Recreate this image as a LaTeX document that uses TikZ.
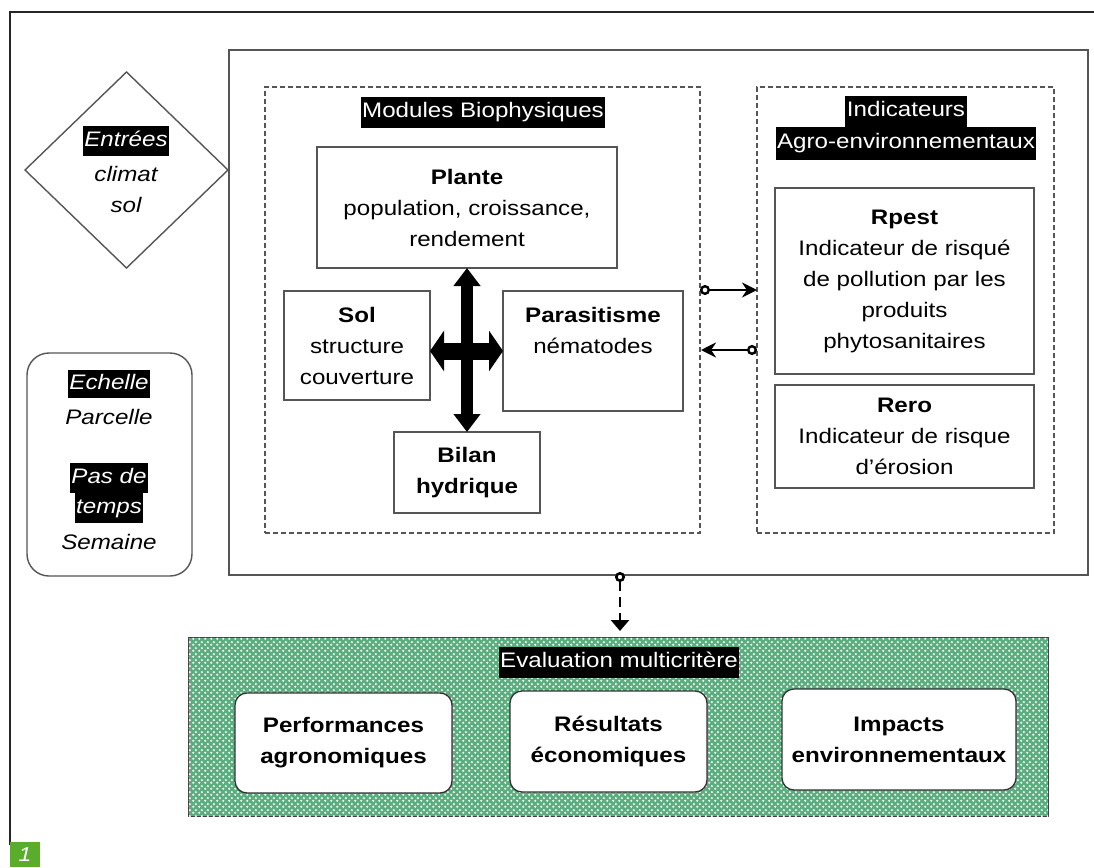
\documentclass[tikz,border=0pt]{standalone}
\usepackage{fontspec}
\setmainfont[FakeStretch=1.15]{Liberation Sans}
\usetikzlibrary{arrows.meta,shapes.geometric,patterns,calc}
\definecolor{greenbase}{HTML}{5AAE80}
\definecolor{tagGreen}{HTML}{5AAC2C}
\definecolor{lineGray}{HTML}{555555}
\pgfdeclarepatternformonly{mydots}{\pgfqpoint{0pt}{0pt}}{\pgfqpoint{6pt}{6pt}}{\pgfqpoint{6pt}{6pt}}{%
  \pgfpathcircle{\pgfqpoint{1.5pt}{1.5pt}}{1.3pt}%
  \pgfpathcircle{\pgfqpoint{4.5pt}{4.5pt}}{1.3pt}%
  \pgfusepath{fill}%
}
\begin{document}
\begin{tikzpicture}[x=1pt,y=-1pt,
  every node/.style={font=\fontsize{21}{31}\selectfont, outer sep=0pt},
  frame/.style={draw=lineGray, line width=1.4pt, inner sep=0pt},
  box/.style={draw=lineGray, line width=1.3pt, fill=white, align=center, inner sep=0pt},
  dbox/.style={draw=lineGray, line width=1.3pt, dash pattern=on 5pt off 3pt, inner sep=0pt},
  rbox/.style={box, rounded corners=12pt, draw=black!80},
  tag/.style={fill=black, text=white, inner xsep=1.5pt, inner ysep=0pt, text height=17pt, text depth=6pt, minimum height=31pt},
  txt/.style={align=center, inner sep=0pt},
  vbig/.style={line width=12pt, {Triangle[width=26pt,length=18pt]}-{Triangle[width=26pt,length=18pt]}},
  hbig/.style={line width=17pt, {Triangle[width=40pt,length=14pt]}-{Triangle[width=40pt,length=14pt]}},
  link/.style={line width=2.4pt, {Circle[open,length=10pt,width=10pt,fill=white,line width=2.4pt]}-{Stealth[length=15pt,width=15pt]}},
  dlink/.style={line width=2.6pt, dash pattern=on 10pt off 6pt, {Circle[open,length=10pt,width=10pt,fill=white]}-{Triangle[length=11pt,width=18pt]}},
]
\useasboundingbox (0,0) rectangle (1094,867);

% outer frame (top and left)
\draw[line width=1.4pt, draw=black!85] (10,845) -- (10,12) -- (1094,12);

% figure tag
\node[fill=tagGreen, minimum width=30pt, minimum height=25pt, inner sep=0pt, text=white,
      font=\fontsize{20}{24}\selectfont\itshape] (fig) at (25,854.5) {1};

% inputs diamond
\node[diamond, draw=lineGray, line width=1.4pt, minimum width=203pt, minimum height=196pt, inner sep=0pt, fill=white] (inp) at (126.5,170) {};
\node[tag, font=\fontsize{21}{31}\selectfont\itshape, minimum height=30pt] (inpT) at (126,141) {Entrées};
\node[txt, font=\fontsize{21}{31}\selectfont\itshape] (inpA) at (126,174) {climat};
\node[txt, font=\fontsize{21}{31}\selectfont\itshape] (inpB) at (126,205) {sol};

% scale box
\node[draw=lineGray, line width=1.4pt, rounded corners=22pt, minimum width=165pt, minimum height=223pt, inner sep=0pt] (ech) at (109.5,464.5) {};
\node[tag, font=\fontsize{21}{31}\selectfont\itshape, minimum height=28pt] (echT) at (109,384) {Echelle};
\node[txt, font=\fontsize{21}{31}\selectfont\itshape] (echA) at (109,417) {Parcelle};
\node[tag, font=\fontsize{21}{31}\selectfont\itshape, minimum height=30pt] (pasT) at (109,478) {Pas de};
\node[tag, font=\fontsize{21}{31}\selectfont\itshape, minimum height=30pt] (pasU) at (109,508) {temps};
\node[txt, font=\fontsize{21}{31}\selectfont\itshape] (pasA) at (109,542) {Semaine};

% system box
\node[frame, minimum width=859pt, minimum height=525pt] (sys) at (658.5,312.5) {};

% modules
\node[dbox, minimum width=435pt, minimum height=446pt] (mod) at (482.5,310) {};
\node[tag] (modT) at (483,112) {Modules Biophysiques};
\node[box, minimum width=300pt, minimum height=121pt] (pl) at (467,207.5) {\textbf{Plante}\\population, croissance,\\rendement};
\node[box, minimum width=146pt, minimum height=109pt] (sol) at (357,345.5) {\textbf{Sol}\\structure\\couverture};
\node[box, minimum width=180pt, minimum height=120pt] (par) at (593,351) {\textbf{Parasitisme}\\nématodes\\\strut};
\node[box, minimum width=146pt, minimum height=81pt] (bil) at (467,472.5) {\textbf{Bilan}\\\textbf{hydrique}};

\draw[vbig] (pl.south) -- (bil.north);
\draw[hbig] (par.west -| sol.east) -- (par.west);

% indicators
\node[dbox, minimum width=297pt, minimum height=446pt] (ind) at (905.5,310) {};
\node[tag] (indT) at (906,111) {Indicateurs};
\node[tag, minimum height=33pt] (indU) at (906,143) {Agro-environnementaux};
\node[box, minimum width=259pt, minimum height=186pt] (rp) at (904.5,281) {\textbf{Rpest}\\Indicateur de risqué\\de pollution par les\\produits\\phytosanitaires};
\node[box, minimum width=259pt, minimum height=103pt] (re) at (904.5,436.5) {\textbf{Rero}\\Indicateur de risque\\d’érosion};

% links between modules and indicators
\coordinate (l1s) at (700,290);
\coordinate (l1e) at (757,290);
\coordinate (l2s) at (757,350);
\coordinate (l2e) at (701,350);
\draw[link] (l1s) -- (l1e);
\draw[link] (l2s) -- (l2e);

% evaluation
\node[draw=black!75, line width=1pt, fill=greenbase, postaction={pattern=mydots, pattern color=white}, minimum width=860pt, minimum height=179pt, inner sep=0pt] (ev) at (618,726.5) {};
\coordinate (d1) at (620,572);
\coordinate (d2) at (620,631);
\draw[dlink] (d1) -- (d2);
\node[tag] (evT) at (619,662) {Evaluation multicritère};
\node[rbox, minimum width=217pt, minimum height=100pt] (perf) at (343.5,743) {\textbf{Performances}\\\textbf{agronomiques}};
\node[rbox, minimum width=197pt, minimum height=101pt] (res) at (608.5,741.5) {\textbf{Résultats}\\\textbf{économiques}};
\node[rbox, minimum width=234pt, minimum height=101pt] (imp) at (899,739.5) {\textbf{Impacts}\\\textbf{environnementaux}};
\end{tikzpicture}
\end{document}
